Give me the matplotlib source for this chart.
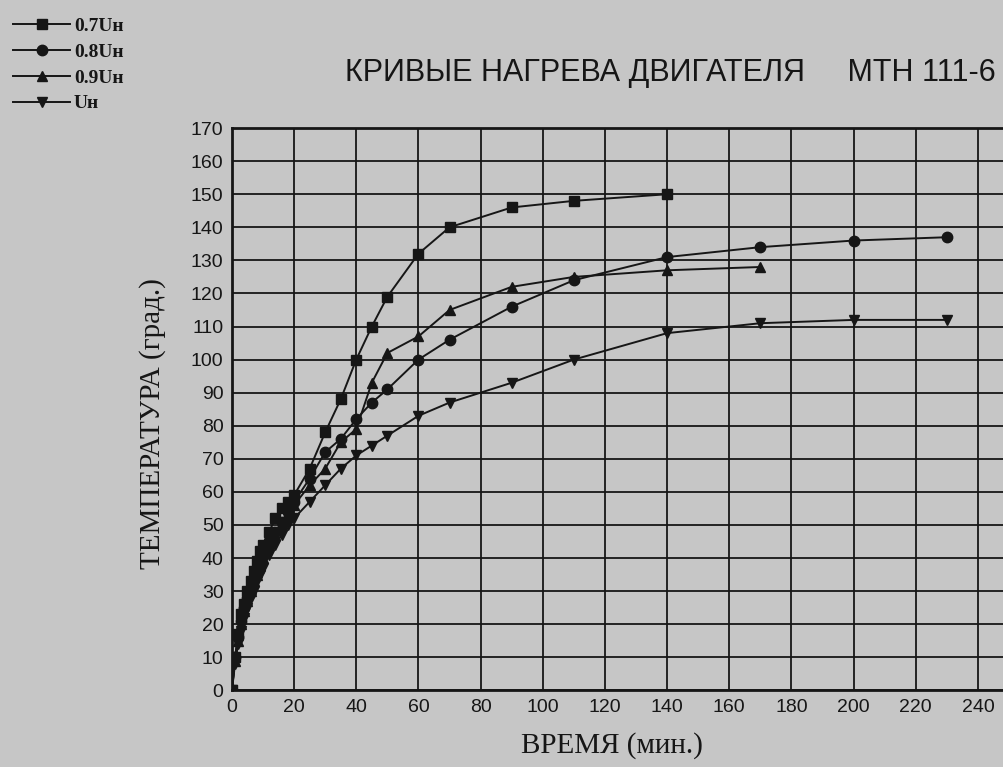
"""
plot.py - heating curves of the MTH 111-6 motor at four supply voltages.

Run:
    python3 plot.py

Output:
    out.png
"""

import matplotlib
matplotlib.use("Agg")
import matplotlib.pyplot as plt

# ── data ──────────────────────────────────────────────────────────────────────

t_early = [0, 1, 2, 3, 4, 5, 6, 7, 8, 9, 10, 12, 14, 16, 18, 20]
t_late_07 = [25, 30, 35, 40, 45, 50, 60, 70, 90, 110, 140]
t_late_08 = [25, 30, 35, 40, 45, 50, 60, 70, 90, 110, 140, 170, 200, 230]
t_late_09 = [25, 30, 35, 40, 45, 50, 60, 70, 90, 110, 140, 170]
t_late_10 = [25, 30, 35, 40, 45, 50, 60, 70, 90, 110, 140, 170, 200, 230]

temp_07 = [0, 10, 17, 23, 26, 30, 33, 36, 39, 42, 44, 48, 52, 55, 57, 59,
           67, 78, 88, 100, 110, 119, 132, 140, 146, 148, 150]
temp_08 = [0, 10, 16, 21, 25, 28, 31, 34, 37, 39, 41, 45, 48, 51, 54, 57,
           64, 72, 76, 82, 87, 91, 100, 106, 116, 124, 131, 134, 136, 137]
temp_09 = [0, 9, 15, 20, 24, 27, 30, 33, 35, 38, 40, 44, 47, 50, 53, 56,
           62, 67, 75, 79, 93, 102, 107, 115, 122, 125, 127, 128]
temp_10 = [0, 8, 14, 18, 22, 25, 28, 30, 33, 35, 37, 41, 44, 47, 50, 52,
           57, 62, 67, 71, 74, 77, 83, 87, 93, 100, 108, 111, 112, 112]

labels = ["0.7Uн", "0.8Uн", "0.9Uн", "Uн"]
markers = ["s", "o", "^", "v"]
series = [
    (t_early + t_late_07, temp_07),
    (t_early + t_late_08, temp_08),
    (t_early + t_late_09, temp_09),
    (t_early + t_late_10, temp_10),
]

x_ticks = list(range(0, 260, 20))
y_ticks = list(range(0, 180, 10))

BG = "#c6c6c6"
INK = "#161616"

# ── figure ────────────────────────────────────────────────────────────────────

fig = plt.figure(figsize=(10.04, 7.67), dpi=100, facecolor=BG)
# axes run past the right edge of the picture, like the cropped scan
ax = fig.add_axes([0.231, 0.100, 0.805, 0.733], facecolor=BG)

for (t, temp), lab, mk in zip(series, labels, markers):
    ax.plot(t, temp, color=INK, lw=1.4, marker=mk, ms=7.5,
            markeredgecolor=INK, markerfacecolor=INK, label=lab, zorder=3)

ax.set_xlim(0, 260)
ax.set_ylim(0, 170)
ax.set_xticks(x_ticks)
ax.set_yticks(y_ticks)
ax.set_xticklabels([str(v) if v <= 240 else "" for v in x_ticks])
ax.grid(True, color=INK, lw=1.3)
ax.set_axisbelow(True)
ax.tick_params(length=0, pad=6, labelsize=14, colors=INK)
for lbl in ax.get_xticklabels() + ax.get_yticklabels():
    lbl.set_family("Liberation Sans")

for side in ("left", "bottom", "top"):
    ax.spines[side].set_color(INK)
    ax.spines[side].set_linewidth(2.0)
ax.spines["right"].set_visible(False)

ax.set_xlabel("ВРЕМЯ (мин.)", family="Liberation Serif", fontsize=21, color=INK)
ax.xaxis.set_label_coords(0.47, -0.098)
ax.set_ylabel("ТЕМПЕРАТУРА (град.)", family="Liberation Serif", fontsize=21, color=INK)
ax.yaxis.set_label_coords(-0.098, 0.474)
ax.xaxis.label.set_va("center")
ax.yaxis.label.set_va("center")

fig.text(0.344, 0.905, "КРИВЫЕ НАГРЕВА ДВИГАТЕЛЯ     МТН 111-6",
         family="Liberation Sans", fontsize=22, color=INK, ha="left", va="center")

leg = fig.legend(loc="upper left", bbox_to_anchor=(-0.004, 1.0), frameon=False,
                 handlelength=2.9, handletextpad=0.2, labelspacing=0.42,
                 prop={"family": "Liberation Serif", "size": 14, "weight": "bold"})
for txt in leg.get_texts():
    txt.set_color(INK)
for h in leg.legend_handles:
    h.set_markersize(7.5)

fig.savefig("out.png", dpi=100, facecolor=BG)
print("Saved: out.png")
